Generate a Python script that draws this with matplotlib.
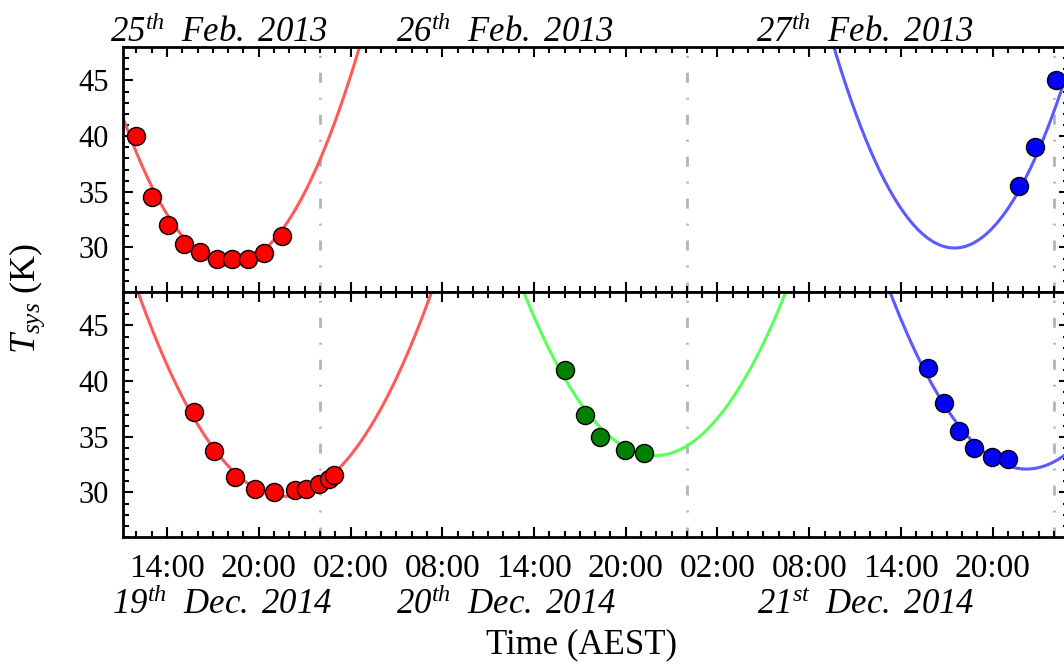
import numpy as np
import matplotlib
matplotlib.use('Agg')
import matplotlib.pyplot as plt
from matplotlib.ticker import MultipleLocator, FixedLocator, NullFormatter
import matplotlib.transforms as mtrans

plt.rcParams['font.family'] = ['Liberation Serif', 'DejaVu Serif']
plt.rcParams['mathtext.fontset'] = 'custom'
plt.rcParams['mathtext.rm'] = 'Liberation Serif:italic'
plt.rcParams['mathtext.it'] = 'Liberation Serif:italic'
plt.rcParams['mathtext.bf'] = 'Liberation Serif:bold'

# ---- data (time in hours since midnight of the first day) ----
top_red_t = [11.95, 13.03, 14.08, 15.12, 16.15, 17.24, 18.26, 19.27, 20.36, 21.5]
top_red_T = [40.0, 34.5, 32.0, 30.3, 29.6, 29.0, 29.0, 29.0, 29.5, 31.0]
top_blue_t = [69.7, 70.75, 72.13]
top_blue_T = [35.5, 39.05, 45.0]

bot_red_t = [15.78, 17.09, 18.46, 19.75, 21.01, 22.36, 23.08, 23.92, 24.61, 24.92]
bot_red_T = [37.2, 33.7, 31.4, 30.3, 30.05, 30.2, 30.3, 30.75, 31.2, 31.55]
bot_green_t = [40.0, 41.31, 42.29, 43.93, 45.19]
bot_green_T = [41.0, 37.0, 35.0, 33.8, 33.5]
bot_blue_t = [63.77, 64.79, 65.79, 66.77, 67.93, 69.02]
bot_blue_T = [41.2, 38.0, 35.5, 34.0, 33.2, 33.0]

# fitted curves: (centre hour, minimum Tsys, curvature)
top_red_fit = (18.1, 28.4, 0.272)
top_blue_fit = (65.5, 29.95, 0.29)
bot_red_fit = (21.7, 29.65, 0.199)
bot_green_fit = (45.9, 33.3, 0.2)
bot_blue_fit = (70.2, 32.1, 0.2)

midnights = [24, 48, 72]
tick_hours = [14, 20, 26, 32, 38, 44, 50, 56, 62, 68]
tick_labels = ['14:00', '20:00', '02:00', '08:00', '14:00', '20:00',
               '02:00', '08:00', '14:00', '20:00']
top_day_x = [17.4, 36.1, 59.65]
top_day_labels = [r'$25^{th}\ \ Feb.\ 2013$',
                  r'$26^{th}\ \ Feb.\ 2013$',
                  r'$27^{th}\ \ Feb.\ 2013$']
bot_day_x = [17.6, 36.2, 59.7]
bot_day_labels = [r'$19^{th}\ \ Dec.\ 2014$',
                  r'$20^{th}\ \ Dec.\ 2014$',
                  r'$21^{st}\ \ Dec.\ 2014$']

xlim = (11.1, 73.0)
ylim = (26, 48)

W, H = 1064, 664
fig = plt.figure(figsize=(W / 100, H / 100), dpi=100)
left = 122.7 / W
width = (xlim[1] - xlim[0]) * 15.29 / W
ax_top = fig.add_axes([left, 1 - 292 / H, width, 245 / H])
ax_bot = fig.add_axes([left, 1 - 537 / H, width, 245 / H])

def curve(ax, fit, color):
    t0, T0, a = fit
    x = np.linspace(xlim[0], xlim[1], 800)
    ax.plot(x, T0 + a * (x - t0) ** 2, color=color, lw=2.2, zorder=2)

def points(ax, t, T, color):
    ax.plot(t, T, 'o', ms=13, mfc=color, mec='black', mew=1.0, zorder=3,
            clip_on=False)

for ax in (ax_top, ax_bot):
    for m in midnights:
        ax.axvline(m, color='#b3b3b3', lw=2.0, dashes=(3.6, 5.4, 0.7, 5.4),
                   zorder=1)

curve(ax_top, top_red_fit, '#ff5a5a')
curve(ax_top, top_blue_fit, '#5a5aff')
points(ax_top, top_red_t, top_red_T, 'red')
points(ax_top, top_blue_t, top_blue_T, 'blue')

curve(ax_bot, bot_red_fit, '#ff5a5a')
curve(ax_bot, bot_green_fit, '#5aff5a')
curve(ax_bot, bot_blue_fit, '#5a5aff')
points(ax_bot, bot_red_t, bot_red_T, 'red')
points(ax_bot, bot_green_t, bot_green_T, 'green')
points(ax_bot, bot_blue_t, bot_blue_T, 'blue')

for ax in (ax_top, ax_bot):
    ax.set_xlim(*xlim)
    ax.set_ylim(*ylim)
    ax.xaxis.set_major_locator(FixedLocator(tick_hours))
    ax.xaxis.set_minor_locator(MultipleLocator(1))
    ax.yaxis.set_major_locator(FixedLocator([30, 35, 40, 45]))
    ax.yaxis.set_minor_locator(MultipleLocator(1))
    ax.tick_params(which='both', direction='in', top=True, right=True,
                   width=1.5)
    ax.tick_params(which='major', length=7.5)
    ax.tick_params(which='minor', length=4)
    ax.tick_params(axis='y', labelsize=22, pad=10)
    for s in ax.spines.values():
        s.set_linewidth(2.0)

ax_top.xaxis.set_major_formatter(NullFormatter())
ax_bot.set_xticklabels(tick_labels)
ax_bot.tick_params(axis='x', labelsize=24, pad=12)

for x, lab in zip(top_day_x, top_day_labels):
    ax_top.text(x, 1.02, lab, transform=ax_top.get_xaxis_transform(),
                ha='center', va='baseline', fontsize=25)

trans = mtrans.blended_transform_factory(ax_bot.transData, fig.transFigure)
for x, lab in zip(bot_day_x, bot_day_labels):
    fig.text(x, 1 - 614 / H, lab, transform=trans, ha='center',
             va='baseline', fontsize=25)

fig.text(582 / W, 1 - 653 / H, 'Time (AEST)', ha='center', va='baseline',
         fontsize=25)
fig.text(27 / W, 1 - 298 / H, r'$T_{sys}$ (K)', rotation=90, ha='center',
         va='center', fontsize=26)

fig.savefig('out.png', dpi=100)
